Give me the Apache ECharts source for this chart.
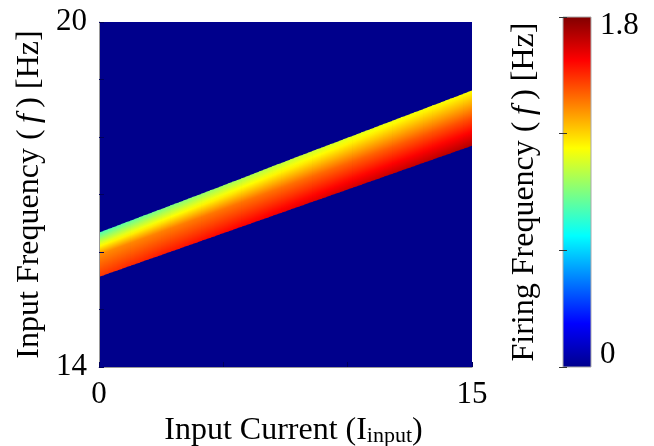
<!DOCTYPE html>
<html><head><meta charset="utf-8">
<script src="https://cdn.jsdelivr.net/npm/echarts@6/dist/echarts.min.js"></script>
<style>html,body{margin:0;padding:0;background:#fff}#c{width:654px;height:446px}</style>
</head><body><div id="c"></div>
<script>
// Input current (x) columns where the firing band was read
const inputCurrent   = [0, 2.5, 5, 7.5, 10, 12.5, 15];
// Input frequency at the lower / upper edge of the firing band [Hz]
const bandLowerFreq  = [15.57, 15.95, 16.33, 16.71, 17.09, 17.47, 17.85];
const bandUpperFreq  = [16.34, 16.75, 17.16, 17.58, 17.99, 18.40, 18.81];
// Firing frequency at upper edge, middle and lower edge of the band [Hz]
const rateAtUpper    = [0.80, 0.88, 0.95, 1.01, 1.06, 1.10, 1.12];
const rateAtMiddle   = [1.33, 1.35, 1.37, 1.38, 1.40, 1.42, 1.44];
const rateAtLower    = [1.48, 1.53, 1.57, 1.61, 1.65, 1.68, 1.71];
// Colour scale range and tick labels
const colorRange     = [0, 1.8];
const xRange         = [0, 15];
const yRange         = [14, 20];
const xTickLabels    = ['0', '15'];
const yTickLabels    = ['14', '20'];
const colorTickLabels = ['0', '1.8'];

const FONT = 'Liberation Serif';
const jetKnots = [[0,[0,0,0.55]],[0.125,[0,0,1]],[0.375,[0,1,1]],[0.625,[1,1,0]],[0.875,[1,0,0]],[1,[0.5,0,0]]];
function jet(t){
  t = Math.max(0, Math.min(1, t));
  for (let i=0;i<jetKnots.length-1;i++){
    const [t0,c0]=jetKnots[i],[t1,c1]=jetKnots[i+1];
    if (t<=t1){
      const f=(t-t0)/(t1-t0);
      const c=c0.map((v,k)=>Math.round(255*(v+(c1[k]-v)*f)));
      return 'rgb('+c.join(',')+')';
    }
  }
  return 'rgb(128,0,0)';
}
const norm = v => (v-colorRange[0])/(colorRange[1]-colorRange[0]);
const lerp=(p,q,t)=>p+(q-p)*t;

const segments=[];
for (let i=0;i<inputCurrent.length-1;i++){
  segments.push([inputCurrent[i],inputCurrent[i+1],
    bandLowerFreq[i],bandUpperFreq[i],bandLowerFreq[i+1],bandUpperFreq[i+1],
    rateAtUpper[i],rateAtMiddle[i],rateAtLower[i],
    rateAtUpper[i+1],rateAtMiddle[i+1],rateAtLower[i+1]]);
}

function renderBand(params, api){
  const v=k=>api.value(k);
  const N=14, children=[];
  const last = params.dataIndex===segments.length-1;
  for (let k=0;k<N;k++){
    const a=k/N,b=(k+1)/N,m=(a+b)/2;
    const xa=lerp(v(0),v(1),a), xb=lerp(v(0),v(1),b), xm=lerp(v(0),v(1),m);
    const pUA=api.coord([xa,lerp(v(3),v(5),a)]), pUB=api.coord([xb,lerp(v(3),v(5),b)]);
    const pLA=api.coord([xa,lerp(v(2),v(4),a)]), pLB=api.coord([xb,lerp(v(2),v(4),b)]);
    const dx=pUB[0]-pUA[0], dy=pUB[1]-pUA[1], len=Math.hypot(dx,dy);
    const n=[-dy/len, dx/len];
    const pu=api.coord([xm,lerp(v(3),v(5),m)]), pl=api.coord([xm,lerp(v(2),v(4),m)]);
    const th=(pl[0]-pu[0])*n[0]+(pl[1]-pu[1])*n[1];
    const up=lerp(v(6),v(9),m), mid=lerp(v(7),v(10),m), lo=lerp(v(8),v(11),m);
    const stops=[];
    for (let s=0;s<=16;s++){
      const f=s/16;
      const val = f<=0.5 ? lerp(up,mid,f/0.5) : lerp(mid,lo,(f-0.5)/0.5);
      stops.push({offset:f,color:jet(norm(val))});
    }
    const ov = (last && k===N-1) ? 0 : 0.8;
    children.push({type:'polygon',
      shape:{points:[pUA,[pUB[0]+ov,pUB[1]],[pLB[0]+ov,pLB[1]],pLA]},
      style:{fill:new echarts.graphic.LinearGradient(pu[0],pu[1],pu[0]+n[0]*th,pu[1]+n[1]*th,stops,true)}
    });
  }
  return {type:'group',children};
}

function renderColorbar(params, api){
  const p0=api.coord([0,api.value(1)]), p1=api.coord([1,api.value(0)]);
  return {type:'rect',
    shape:{x:p0[0],y:p0[1],width:p1[0]-p0[0],height:p1[1]-p0[1]},
    style:{fill:new echarts.graphic.LinearGradient(0,1,0,0,jetKnots.map(([t])=>({offset:t,color:jet(t)}))),
      stroke:'#aaa',lineWidth:1}};
}

const chart=echarts.init(document.getElementById('c'),null,{renderer:'canvas'});
const tickStyle={fontFamily:FONT,fontSize:31,color:'#000'};
const titleStyle={fontFamily:FONT,fontSize:32,color:'#000'};
chart.setOption({
  animation:false,
  grid:[
    {left:99,top:22,width:373,height:345,show:true,backgroundColor:jet(0),borderWidth:0,containLabel:false,outerBoundsMode:'none'},
    {left:563,top:17,width:28,height:350,containLabel:false,outerBoundsMode:'none'}
  ],
  xAxis:[
    {gridIndex:0,type:'value',min:xRange[0],max:xRange[1],interval:5,z:5,
     axisLine:{show:true,lineStyle:{color:'#999',width:1}},
     axisTick:{show:true,inside:true,length:5,lineStyle:{color:'#00005a'}},
     splitLine:{show:false},
     axisLabel:Object.assign({margin:12,formatter:v=>xTickLabels.indexOf(String(v))>=0?String(v):''},tickStyle),
     name:'Input Current (I{sub|input})',nameLocation:'middle',nameGap:42,
     nameTextStyle:Object.assign({padding:[0,0,0,16],rich:{sub:{fontFamily:FONT,fontSize:22,color:'#000',padding:[10,0,0,0]}}},titleStyle)},
    {gridIndex:1,type:'value',min:0,max:1,show:false}
  ],
  yAxis:[
    {gridIndex:0,type:'value',min:yRange[0],max:yRange[1],interval:1,z:5,
     axisLine:{show:true,lineStyle:{color:'#999',width:1}},
     axisTick:{show:true,inside:true,length:5,lineStyle:{color:'#00005a'}},
     splitLine:{show:false},
     axisLabel:Object.assign({margin:12,formatter:v=>yTickLabels.indexOf(String(v))>=0?String(v):''},tickStyle),
     name:'Input Frequency ({it|\u2009f\u2009}) [Hz]',nameLocation:'middle',nameGap:51,
     nameTextStyle:Object.assign({rich:{it:{fontFamily:FONT,fontSize:32,fontStyle:'italic',color:'#000'}}},titleStyle)},
    {gridIndex:1,type:'value',min:colorRange[0],max:colorRange[1],interval:0.6,position:'right',z:5,
     axisLine:{show:false},
     axisTick:{show:true,inside:true,length:4,lineStyle:{color:'#333'}},
     splitLine:{show:false},
     axisLabel:Object.assign({margin:9,
       formatter:v=>{const s=String(Math.round(v*10)/10);
         if(s===colorTickLabels[1])return '{mx|'+s+'}';
         if(s===colorTickLabels[0])return '{mn|'+s+'}';return '';},
       rich:{mx:{fontFamily:FONT,fontSize:31,color:'#000',padding:[18,0,0,0]},
             mn:{fontFamily:FONT,fontSize:31,color:'#000',padding:[0,0,24,0]}}},tickStyle)},
    {gridIndex:1,type:'value',min:colorRange[0],max:colorRange[1],interval:0.6,position:'left',z:5,
     axisLine:{show:false},axisLabel:{show:false},splitLine:{show:false},
     axisTick:{show:true,inside:true,length:4,lineStyle:{color:'#333'}},
     name:'Firing Frequency ({it|\u2009f\u2009}) [Hz]',nameLocation:'middle',nameGap:22,
     nameTextStyle:Object.assign({rich:{it:{fontFamily:FONT,fontSize:32,fontStyle:'italic',color:'#000'}}},titleStyle)}
  ],
  series:[
    {type:'custom',xAxisIndex:0,yAxisIndex:0,renderItem:renderBand,data:segments,silent:true},
    {type:'custom',xAxisIndex:1,yAxisIndex:1,renderItem:renderColorbar,data:[[colorRange[0],colorRange[1]]],silent:true}
  ]
});
</script></body></html>
